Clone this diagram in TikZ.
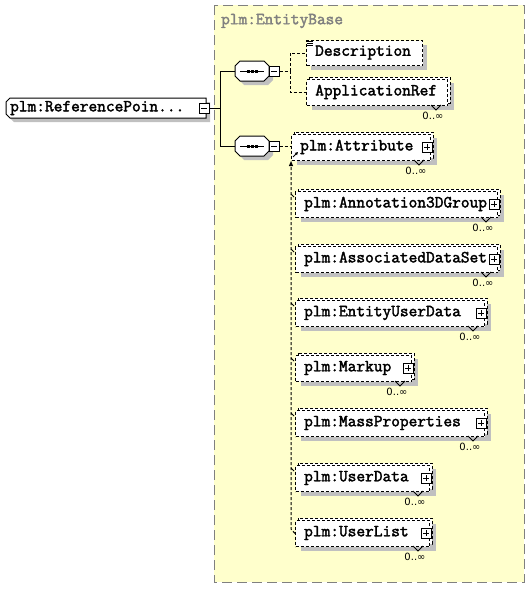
\documentclass[tikz,border=0pt]{standalone}
\usepackage{fontspec}
\newfontfamily\multfont{DejaVu Sans}
\newfontfamily\lblfont{Latin Modern Mono}[FakeBold=2.2]
\usetikzlibrary{arrows.meta}
\definecolor{bgy}{HTML}{FFFFCC}
\definecolor{shd}{HTML}{C0C0C0}
\definecolor{brd}{HTML}{808080}
\tikzset{
  dl/.style={dash pattern=on 3pt off 2pt, line width=1pt},
  ebox/.style={draw, fill=white, dash pattern=on 3pt off 2pt, line width=1pt},
  lbl/.style={font=\fontsize{16.9}{18}\selectfont\lblfont, anchor=west, inner sep=0},
  mult/.style={font=\fontsize{10}{11}\selectfont\multfont, inner sep=0},
  pmbox/.style={draw, fill=white, line width=1pt, minimum size=10pt, inner sep=0},
  conn/.style={line width=1pt},
}
% plus / minus boxes
\newcommand\xplus[3]{%
  \node[pmbox] (#1) at (#2,#3) {};
  \draw[line width=1pt] (#2-3,#3) -- (#2+3,#3) (#2,#3-3) -- (#2,#3+3);
}
\newcommand\xminus[3]{%
  \node[pmbox] (#1) at (#2,#3) {};
  \draw[line width=1pt] (#2-3,#3) -- (#2+3,#3);
}
% stacked (multiple) element box: name, x1, y1, x2, text
\newcommand\xstack[5]{%
  \fill[shd] (#2+6,#3+4) rectangle (#4+7,#3+31);
  \draw[ebox] (#2+3,#3-2) rectangle (#4+3,#3+24);
  \node[ebox, anchor=north west, minimum width={#4-#2}, minimum height=26, inner sep=0] (#1) at (#2,#3) {};
  \node[lbl] (#1-t) at (#2+9,#3+13) {#5};
  \draw[line width=1pt] (#4-16,#3+26) -- (#4-11,#3+31) -- (#4-6,#3+26);
  \node[mult] (#1-m) at (#4-14,#3+37) {0..∞};
}
% sequence compositor: name, cx, cy
\newcommand\xseq[3]{%
  \fill[shd] (#2-17+9,#3-10+4) -- (#2+17-1,#3-10+4) -- (#2+17+4,#3-5+4) -- (#2+17+4,#3+5+4)
     -- (#2+17-1,#3+10+4) -- (#2-17+9,#3+10+4) -- (#2-17+4,#3+5+4) -- (#2-17+4,#3-5+4) -- cycle;
  \node[minimum width=34, minimum height=20, inner sep=0] (#1) at (#2,#3) {};
  \draw[fill=white, line width=1pt] (#2-12,#3-10) -- (#2+12,#3-10) -- (#2+17,#3-5) -- (#2+17,#3+5)
     -- (#2+12,#3+10) -- (#2-12,#3+10) -- (#2-17,#3+5) -- (#2-17,#3-5) -- cycle;
  \draw[line width=1pt] (#2-12,#3) -- (#2+12,#3);
  \fill (#2-5.5,#3-1.5) rectangle (#2-2.5,#3+1.5);
  \fill (#2-1.5,#3-1.5) rectangle (#2+1.5,#3+1.5);
  \fill (#2+2.5,#3-1.5) rectangle (#2+5.5,#3+1.5);
}
\begin{document}
\begin{tikzpicture}[x=1pt,y=-1pt]
\useasboundingbox (0,0) rectangle (530,589);
% group background
\fill[bgy] (214,5) rectangle (524,582);
\draw[brd, dash pattern=on 10pt off 5pt, line width=1pt] (214,5) rectangle (524,582);
\node[lbl, text=brd] (title) at (221,21) {plm:EntityBase};

% root element
\fill[shd] (14,102) -- (210,102) -- (210,122) -- (14,122) -- (10,118) -- (10,106) -- cycle;
\node[minimum width=200, minimum height=20, inner sep=0, anchor=north west] (root) at (6,98) {};
\draw[fill=white, line width=1pt] (10,98) -- (206,98) -- (206,118) -- (10,118) -- (6,114) -- (6,102) -- cycle;
\node[lbl] (root-t) at (10,108) {plm:ReferencePoin...};
\xminus{rootm}{204}{108}

% sequences
\xseq{seqA}{252}{71}
\xminus{seqAm}{274}{71}
\xseq{seqB}{252}{146}
\xminus{seqBm}{274}{146}

% root connectors
\draw[conn] (rootm.east) -- (220,108) coordinate (j1);
\draw[conn] (j1) |- (seqA.west);
\draw[conn] (j1) |- (seqB.west);

% Description (single, optional)
\fill[shd] (311,45) rectangle (427,70);
\node[ebox, anchor=north west, minimum width=116, minimum height=25, inner sep=0] (desc) at (306,40) {};
\node[lbl] (desc-t) at (315,52.5) {Description};
\draw[line width=0.8pt] (307,41) -- (313,41) (307,43) -- (313,43) (307,45) -- (313,45);

% ApplicationRef (multiple)
\xstack{appref}{306}{79}{447}{ApplicationRef}

% sequence A connectors
\draw[dl] (seqAm.east) -- (290,71) coordinate (j2);
\draw[dl] (j2) |- (desc.west);
\draw[dl] (j2) |- (appref.west);

% substitution group members
\xstack{attr}{291}{134}{430}{plm:Attribute}
\xplus{attr-p}{427}{147}
\xstack{anno}{295}{191}{497}{plm:Annotation3DGroup}
\xplus{anno-p}{494}{204}
\xstack{assoc}{295}{246}{497}{plm:AssociatedDataSet}
\xplus{assoc-p}{494}{259}
\xstack{eud}{295}{300}{484}{plm:EntityUserData}
\xplus{eud-p}{481}{313}
\xstack{markup}{295}{355}{411}{plm:Markup}
\xplus{markup-p}{408}{368}
\xstack{mass}{295}{410}{484}{plm:MassProperties}
\xplus{mass-p}{481}{423}
\xstack{udata}{295}{465}{429}{plm:UserData}
\xplus{udata-p}{426}{478}
\xstack{ulist}{295}{520}{429}{plm:UserList}
\xplus{ulist-p}{426}{533}

% sequence B connector
\draw[dl] (seqBm.east) -- (seqBm.east -| attr.west);

% substitution line with arrow up to head element
\draw[dl, -{Triangle[length=5pt,width=4pt]}] (ulist.west) -- (291,529) coordinate (cb) -- (cb |- attr.south west);
\draw[line width=0.8pt, -{Triangle[length=3pt,width=3pt]}] (293,157) -- (298,152);
% stubs to members
\foreach \yy in {191,246,300,355,410,465} {
  \draw[line width=0.8pt] (291,\yy+3) -- (294,\yy+6);
}
\end{tikzpicture}
\end{document}
